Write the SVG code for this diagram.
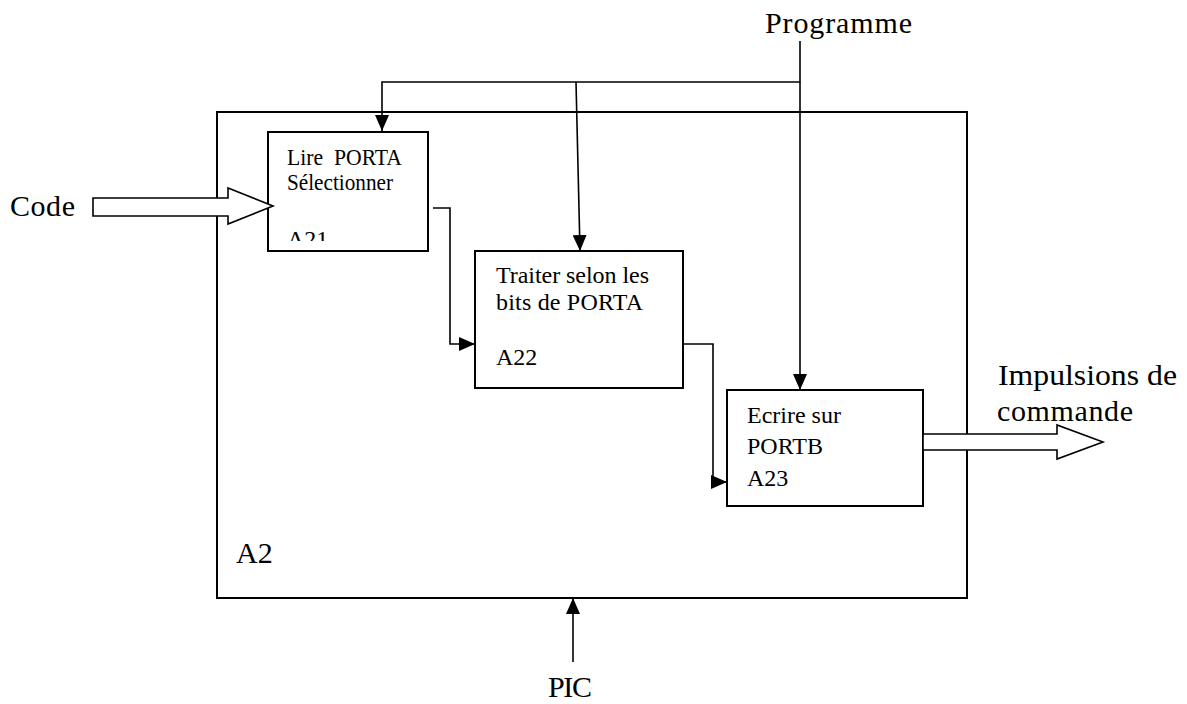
<svg xmlns="http://www.w3.org/2000/svg" width="1187" height="704" viewBox="0 0 1187 704">
<style>
.box{fill:#fff;stroke:#000;stroke-width:2}
.con{fill:none;stroke:#000;stroke-width:1.6}
.big{font-family:"Liberation Serif","Times New Roman",serif;font-size:30px;fill:#000}
.sm{font-family:"Liberation Serif","Times New Roman",serif;font-size:24px;fill:#000;white-space:pre}
.blk{fill:#fff;stroke:#000;stroke-width:1.6}
</style>
<defs>
<marker id="ah" viewBox="0 0 16 14" refX="16" refY="7" markerWidth="16" markerHeight="14" markerUnits="userSpaceOnUse" orient="auto">
<path d="M0,0 L16,7 L0,14 Z" fill="#000"/>
</marker>
<clipPath id="c21"><rect x="268" y="132" width="159" height="109"/></clipPath>
</defs>
<rect width="1187" height="704" fill="#fff"/>
<g id="A2">
<rect class="box" x="217" y="112" width="750" height="486"/>
<text class="big" x="236" y="563">A2</text>
</g>
<g id="A21">
<rect class="box" x="268" y="132" width="160" height="119"/>
<g clip-path="url(#c21)">
<text class="sm" x="287" y="165" textLength="115" lengthAdjust="spacingAndGlyphs">Lire  PORTA</text>
<text class="sm" x="287" y="190" textLength="106" lengthAdjust="spacingAndGlyphs">Sélectionner</text>
<text class="sm" x="287" y="247">A21</text>
</g>
</g>
<g id="A22">
<rect class="box" x="475" y="251" width="208" height="137"/>
<text class="sm" x="496" y="283" textLength="153">Traiter selon les</text>
<text class="sm" x="496" y="310" textLength="147">bits de PORTA</text>
<text class="sm" x="496" y="365">A22</text>
</g>
<g id="A23">
<rect class="box" x="727" y="390" width="196" height="116"/>
<text class="sm" x="747" y="423">Ecrire sur</text>
<text class="sm" x="747" y="454">PORTB</text>
<text class="sm" x="747" y="486">A23</text>
</g>
<g id="labels">
<text class="big" x="10" y="216" textLength="65">Code</text>
<text class="big" x="765" y="33" textLength="147">Programme</text>
<text class="big" x="998" y="385" textLength="179" lengthAdjust="spacingAndGlyphs">Impulsions de</text>
<text class="big" x="997" y="421" textLength="136">commande</text>
<text class="big" x="548" y="697" textLength="44">PIC</text>
</g>
<g id="connectors">
<path class="blk" d="M93,198 L228,198 L228,188 L273,206 L228,224 L228,216 L93,216 Z"/>
<path class="blk" d="M923,434 L1057,434 L1057,425 L1103,442 L1057,459 L1057,450 L923,450 Z"/>
<path class="con" d="M800,41 L800,82 L382,82 L382,131" marker-end="url(#ah)"/>
<path class="con" d="M576,82 L580,251" marker-end="url(#ah)"/>
<path class="con" d="M800,82 L800,390" marker-end="url(#ah)"/>
<path class="con" d="M433,208 L450,208 L450,344 L475,344" marker-end="url(#ah)"/>
<path class="con" d="M683,344 L713,344 L713,482 L727,482" marker-end="url(#ah)"/>
<path class="con" d="M573,662 L573,598" marker-end="url(#ah)"/>
</g>
</svg>
